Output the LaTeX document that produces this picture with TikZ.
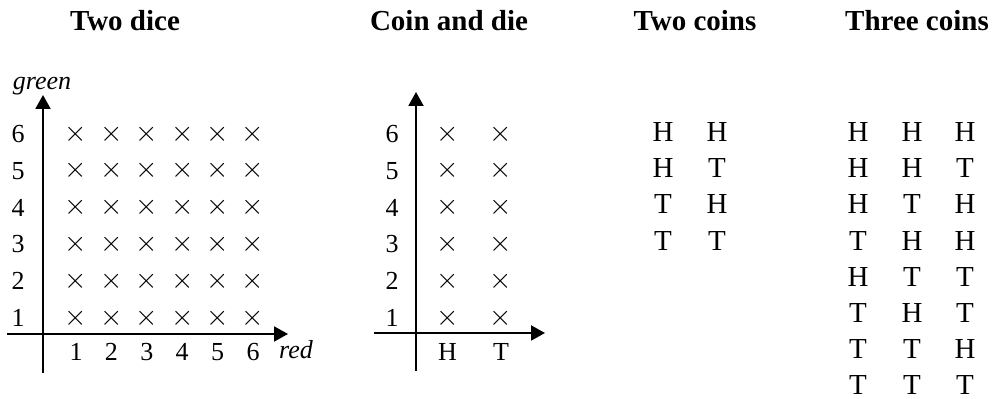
\documentclass[tikz,border=0pt]{standalone}
\usepackage{fontspec}
\setmainfont{Liberation Serif}
\usetikzlibrary{arrows.meta}

\begin{document}
\begin{tikzpicture}[x=0.5pt, y=-0.5pt, line width=1pt,
    every node/.style={inner sep=0pt, font=\fontsize{13}{15}\selectfont},
    title/.style={font=\fontsize{14.5}{17}\selectfont\bfseries},
    coin/.style={font=\fontsize{14.5}{17}\selectfont},
    crossmark/.style={font=\fontsize{14}{16}\selectfont},
    axis/.style={-{Triangle[length=7pt, width=7.5pt]}}]
    \useasboundingbox (0,0) rectangle (995,399);
    % titles
    \node[title] (t-dice) at (125,21) {Two dice};
    \node[title] (t-coindie) at (449,21) {Coin and die};
    \node[title] (t-twocoins) at (695,21) {Two coins};
    \node[title] (t-threecoins) at (917,21) {Three coins};

    % two dice
    \coordinate (dice-y0) at (43,373);
    \coordinate (dice-y1) at (43,95);
    \coordinate (dice-x0) at (7,334);
    \coordinate (dice-x1) at (288,334);
    \draw[axis] (dice-y0) -- (dice-y1);
    \draw[axis] (dice-x0) -- (dice-x1);
    \node[anchor=base, font=\fontsize{13}{15}\selectfont\itshape] (dice-green) at (42,90) {green};
    \node[anchor=base, font=\fontsize{13}{15}\selectfont\itshape] (dice-red) at (296,359) {red};
    \foreach \r in {1,...,6} {
        \node (dice-ylab-\r) at (18,{318-(\r-1)*36.8}) {\r};
        \node (dice-xlab-\r) at ({76+(\r-1)*35.4},352) {\r};
        \foreach \c in {1,...,6}
            \node[crossmark] (dice-\c-\r) at ({76+(\c-1)*35.4},{318-(\r-1)*36.8}) {$\times$};
    }

    % coin and die
    \coordinate (cd-y0) at (416,371);
    \coordinate (cd-y1) at (416,92);
    \coordinate (cd-x0) at (374,333);
    \coordinate (cd-x1) at (545,333);
    \draw[axis] (cd-y0) -- (cd-y1);
    \draw[axis] (cd-x0) -- (cd-x1);
    \node (cd-xlab-H) at (447.5,352) {H};
    \node (cd-xlab-T) at (501,352) {T};
    \foreach \r in {1,...,6} {
        \node (cd-ylab-\r) at (392,{318-(\r-1)*36.8}) {\r};
        \node[crossmark] (cd-H-\r) at (447.5,{318-(\r-1)*36.8}) {$\times$};
        \node[crossmark] (cd-T-\r) at (501,{318-(\r-1)*36.8}) {$\times$};
    }

    % two coins
    \foreach \a/\b [count=\k] in {H/H, H/T, T/H, T/T} {
        \node[coin] (two-\k-a) at (663,{132+(\k-1)*36.2}) {\a};
        \node[coin] (two-\k-b) at (717,{132+(\k-1)*36.2}) {\b};
    }

    % three coins
    \foreach \a/\b/\d [count=\k] in {H/H/H, H/H/T, H/T/H, T/H/H, H/T/T, T/H/T, T/T/H, T/T/T} {
        \node[coin] (three-\k-a) at (858,{132+(\k-1)*36.2}) {\a};
        \node[coin] (three-\k-b) at (912,{132+(\k-1)*36.2}) {\b};
        \node[coin] (three-\k-c) at (965,{132+(\k-1)*36.2}) {\d};
    }
\end{tikzpicture}
\end{document}
